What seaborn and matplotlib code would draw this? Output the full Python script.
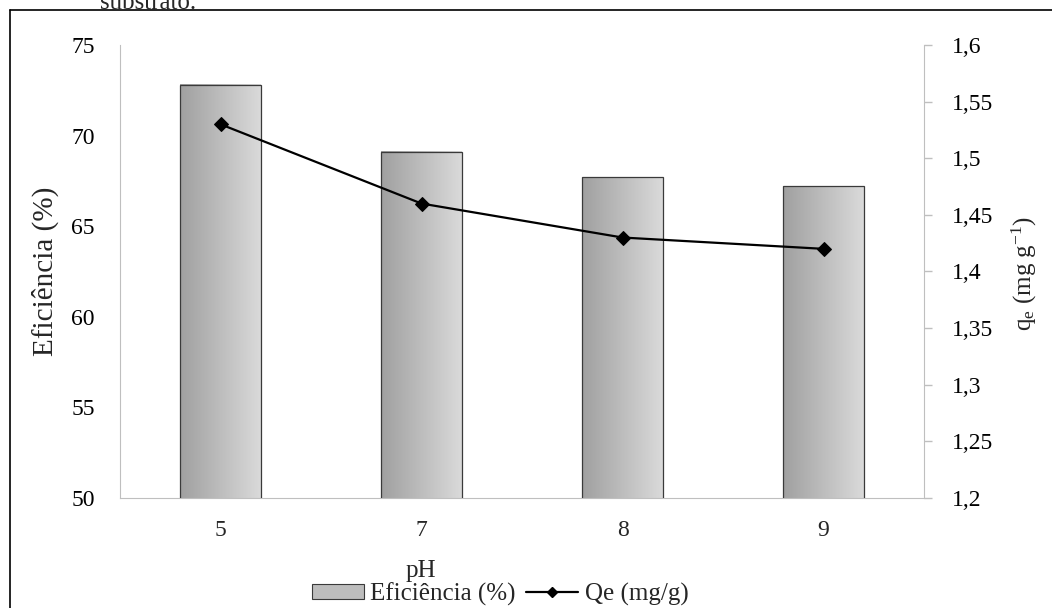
import numpy as np
import pandas as pd
import matplotlib
matplotlib.use("Agg")
import matplotlib.pyplot as plt
import seaborn as sns
from matplotlib.ticker import FuncFormatter, MultipleLocator
from matplotlib.lines import Line2D
from matplotlib.patches import Patch

ph = ["5", "7", "8", "9"]
eficiencia = [72.8, 69.1, 67.7, 67.2]
qe = [1.53, 1.46, 1.43, 1.42]

sns.set_style("white")
plt.rcParams["font.family"] = ["Liberation Serif", "DejaVu Serif"]
plt.rcParams["mathtext.fontset"] = "custom"
plt.rcParams["mathtext.rm"] = "Liberation Serif"
plt.rcParams["mathtext.it"] = "Liberation Serif:italic"

W, H = 1052, 608
fig = plt.figure(figsize=(W / 100, H / 100), dpi=100)
ax = fig.add_axes([120 / W, 1 - 498 / H, (924 - 120) / W, (498 - 45) / H])

YMIN, YMAX = 50, 75
df = pd.DataFrame({"pH": ph, "Eficiencia": eficiencia})
sns.barplot(data=df, x="pH", y="Eficiencia", ax=ax, width=0.4, color="#b0b0b0",
            edgecolor="#3a3a3a", linewidth=0.9, saturation=1)

grad = np.linspace(0, 1, 256).reshape(1, -1)
cmap = matplotlib.colors.LinearSegmentedColormap.from_list("g", ["#a0a0a0", "#dadada"])
for p in ax.patches:
    x0, y0 = p.get_x(), p.get_y()
    w, h = p.get_width(), p.get_height()
    p.set_facecolor("none")
    p.set_zorder(3)
    ax.imshow(grad, extent=[x0, x0 + w, max(y0, YMIN), y0 + h], aspect="auto",
              cmap=cmap, zorder=2, origin="lower")

ax.set_xlim(-0.5, 3.5)
ax.set_ylim(YMIN, YMAX)
ax.yaxis.set_major_locator(MultipleLocator(5))
ax.set_ylabel("Eficiência (%)", fontsize=21)
ax.yaxis.set_label_coords(-(120 - 59) / 804, 0.5)
ax.set_xlabel("pH", fontsize=18)
ax.xaxis.set_label_coords((421 - 120) / 804, -(560 - 498) / 453)

ax2 = ax.twinx()
sns.lineplot(x=np.arange(len(ph)), y=qe, ax=ax2, color="black", marker="D", markersize=7,
             linewidth=1.6, sort=False, markeredgecolor="black")
ax2.set_ylim(1.2, 1.6)
ax2.yaxis.set_major_locator(MultipleLocator(0.05))
fmt = FuncFormatter(lambda v, pos: f"{v:.2f}".rstrip("0").rstrip(".").replace(".", ","))
ax2.yaxis.set_major_formatter(fmt)
ax2.set_ylabel(r"q$_\mathrm{e}$ (mg g$^{\mathrm{-1}}$)", fontsize=18)
ax2.yaxis.set_label_coords(1 + (1010 - 924) / 804, (498 - 273) / 453)
ax2.set_xlim(-0.5, 3.5)

ax.set_xticks(range(len(ph)))
ax.set_xticklabels(ph)

spine_c = "#bfbfbf"
for a in (ax, ax2):
    for s in a.spines.values():
        s.set_visible(False)
    a.tick_params(axis="y", labelsize=17, colors="black", color=spine_c, width=1)
ax.tick_params(axis="x", labelsize=17, length=0, pad=16)
ax.spines["left"].set_visible(True)
ax.spines["left"].set_color(spine_c)
ax.spines["bottom"].set_visible(True)
ax.spines["bottom"].set_color(spine_c)
ax2.spines["right"].set_visible(True)
ax2.spines["right"].set_color(spine_c)
ax.tick_params(axis="y", direction="out", pad=18, length=0, left=True)
ax2.tick_params(axis="y", direction="out", pad=14, length=6, right=True)

handles = [Patch(facecolor="#bdbdbd", edgecolor="#3a3a3a", linewidth=0.8),
           Line2D([0], [0], color="black", marker="D", markersize=5, linewidth=1.6)]
fig.legend(handles, ["Eficiência (%)", "Qe (mg/g)"], loc="center",
           bbox_to_anchor=(500 / W, 1 - 594 / H), ncol=2, frameon=False, fontsize=18,
           handlelength=2.1, handleheight=0.55, handletextpad=0.25, columnspacing=0.4,
           borderpad=0)

fig.add_artist(Line2D([10 / W, 10 / W], [0, 1 - 10 / H], color="black", linewidth=1.2,
                      transform=fig.transFigure))
fig.add_artist(Line2D([10 / W, 1], [1 - 10 / H, 1 - 10 / H], color="black", linewidth=1.2,
                      transform=fig.transFigure))
fig.text(100 / W, 1 - 3 / H, "substrato.", fontsize=18, va="center", ha="left")

fig.savefig("out.png", dpi=100)
